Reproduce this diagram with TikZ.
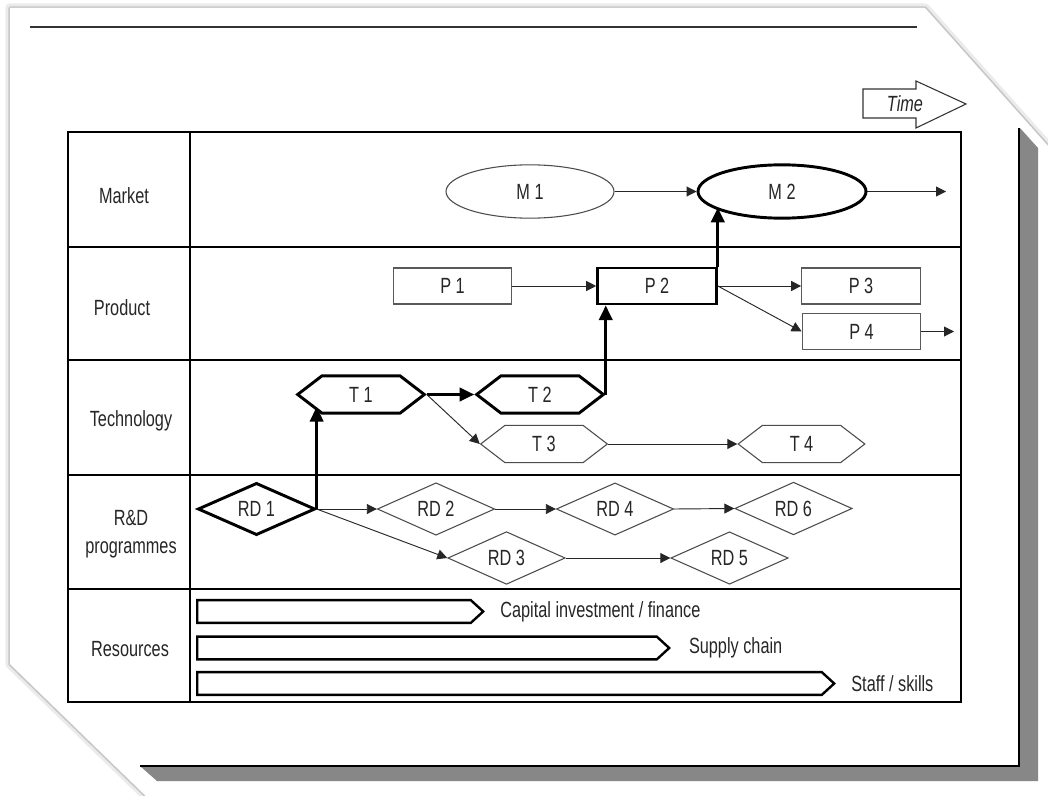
\documentclass[tikz,border=0pt]{standalone}
\usepackage{fontspec}
\setmainfont[FakeStretch=0.74]{Liberation Sans}
\usetikzlibrary{shapes.geometric,shapes.symbols,arrows.meta}
\begin{document}
\begin{tikzpicture}[x=0.75pt,y=-0.75pt,
  lbl/.style={font=\fontsize{16.5}{20}\selectfont, text=black!85},
  ell/.style={ellipse, draw=black!70, line width=0.8pt, minimum width=126pt, minimum height=40pt, inner sep=0pt, lbl},
  ellthick/.style={ell, draw=black, line width=2.2pt},
  box/.style={rectangle, draw=black!65, line width=0.8pt, minimum width=89pt, minimum height=27pt, inner sep=0pt, lbl},
  boxthick/.style={box, draw=black, line width=2.2pt},
  hexa/.style={signal, signal to=east and west, signal pointer angle=75, draw=black!70, line width=0.8pt, minimum width=95pt, minimum height=28pt, inner sep=0pt, lbl},
  hexathick/.style={hexa, draw=black, line width=2.2pt},
  dia/.style={diamond, draw=black!70, line width=0.8pt, minimum width=88pt, minimum height=33pt, inner sep=0pt, lbl},
  diathick/.style={dia, draw=black, line width=2.2pt},
  resbar/.style={signal, signal to=east, signal pointer angle=85, draw=black, line width=1.8pt, minimum height=17pt, inner sep=0pt, anchor=west},
  arr/.style={draw=black!85, line width=0.7pt, -{Triangle[length=7.5pt,width=7.5pt]}},
  arrthick/.style={draw=black, line width=2.2pt, -{Triangle[length=11pt,width=10pt]}},
  grid/.style={line width=2.2pt}
]
\useasboundingbox (0,0) rectangle (1048,795);
% page with soft shadow
\draw[black!8, line width=7pt, line join=round] (10,8) -- (925,8) -- (1048,146) -- (1048,800) -- (150,800) -- (10,664) -- cycle;
\draw[black!22, line width=2.5pt, line join=round] (10,8) -- (925,8) -- (1048,146) -- (1048,800) -- (150,800) -- (10,664) -- cycle;
\fill[white] (10,8) -- (925,8) -- (1048,146) -- (1048,800) -- (150,800) -- (10,664) -- cycle;
% inner frame shadow
\fill[black!47] (1020,128) -- (1038,148) -- (1038,781) -- (157,781) -- (140,766) -- (1020,766) -- cycle;
\draw[line width=2.2pt] (1019,128) -- (1019,766) -- (140,766);
% top rule
\draw[black!80, line width=1.3pt] (30,27) -- (917,27);
% time arrow
\draw[black!80, line width=0.8pt, line join=miter] (863,89) -- (916,89) -- (916,81) -- (966,104) -- (916,128) -- (916,118) -- (863,118) -- cycle;
\node[lbl, font=\fontsize{16.5}{20}\selectfont\itshape] (time) at (905,104) {Time};
% table
\draw[grid] (68,132) rectangle (961,702);
\draw[line width=1.8pt] (190,132) -- (190,702);
\foreach \yy in {247,360,475,589} \draw[grid] (68,\yy) -- (961,\yy);
% row labels
\node[lbl] (lmarket) at (124,196) {Market};
\node[lbl] (lproduct) at (122,308) {Product};
\node[lbl] (ltech) at (131,421) {Technology};
\node[lbl] (lrd) at (131,518) {R\&D};
\node[lbl] (lprog) at (131,550) {programmes};
\node[lbl] (lres) at (130,649) {Resources};
% market
\node[ell] (M1) at (530,191.5) {M 1};
\node[ellthick] (M2) at (782,191.5) {M 2};
\coordinate (mout) at (946,191.5);
% product
\node[box] (P1) at (452.5,286) {P 1};
\node[boxthick] (P2) at (657,286) {P 2};
\node[box] (P3) at (861,286) {P 3};
\node[box] (P4) at (861.5,331.5) {P 4};
\coordinate (p4out) at (954,331.5);
% technology
\node[hexathick] (T1) at (361,394.5) {T 1};
\node[hexathick] (T2) at (540,394.5) {T 2};
\node[hexa] (T3) at (544,444) {T 3};
\node[hexa] (T4) at (801.5,444) {T 4};
% R&D
\node[diathick] (RD1) at (256.5,509) {RD 1};
\node[dia] (RD2) at (436,509) {RD 2};
\node[dia] (RD4) at (615,509) {RD 4};
\node[dia] (RD6) at (793.5,508.5) {RD 6};
\node[dia] (RD3) at (506.5,558) {RD 3};
\node[dia] (RD5) at (729.5,558) {RD 5};
% resources
\node[resbar, minimum width=214.5pt] (bar1) at (196,611.5) {};
\node[resbar, minimum width=354pt] (bar2) at (196,648) {};
\node[resbar, minimum width=477.75pt] (bar3) at (196,683.5) {};
\node[lbl, anchor=west] (cap) at ([xshift=8pt]bar1.east) {Capital investment / finance};
\node[lbl, anchor=west] (sup) at ([xshift=10pt]bar2.east) {Supply chain};
\node[lbl, anchor=west] (staff) at ([xshift=8pt]bar3.east) {Staff / skills};
% connectors
\draw[arr] (M1.east) -- (M2.west);
\draw[arr] (M2.east) -- (mout);
\draw[arr] (P1.east) -- (P2.west);
\draw[arr] (P2.east) -- (P3.west);
\draw[arr] (P2.east) -- (P4.west);
\draw[arr] (P4.east) -- (p4out);
\draw[arrthick] (T1.east) -- (T2.west);
\draw[arr] (T1.east) -- (T3.west);
\draw[arr] (T3.east) -- (T4.west);
\draw[arr] (RD1.east) -- (RD2.west);
\draw[arr] (RD1.east) -- (RD3.west);
\draw[arr] (RD2.east) -- (RD4.west);
\draw[arr] (RD4.east) -- (RD6.west);
\draw[arr] (RD3.east) -- (RD5.west);
\draw[arrthick] (RD1.east) -- (RD1.east |- T1.194);
\draw[arrthick] (T2.east) -- (T2.east |- P2.south);
\draw[arrthick] (P2.north east) -- (P2.north east |- M2.193);
\end{tikzpicture}
\end{document}
